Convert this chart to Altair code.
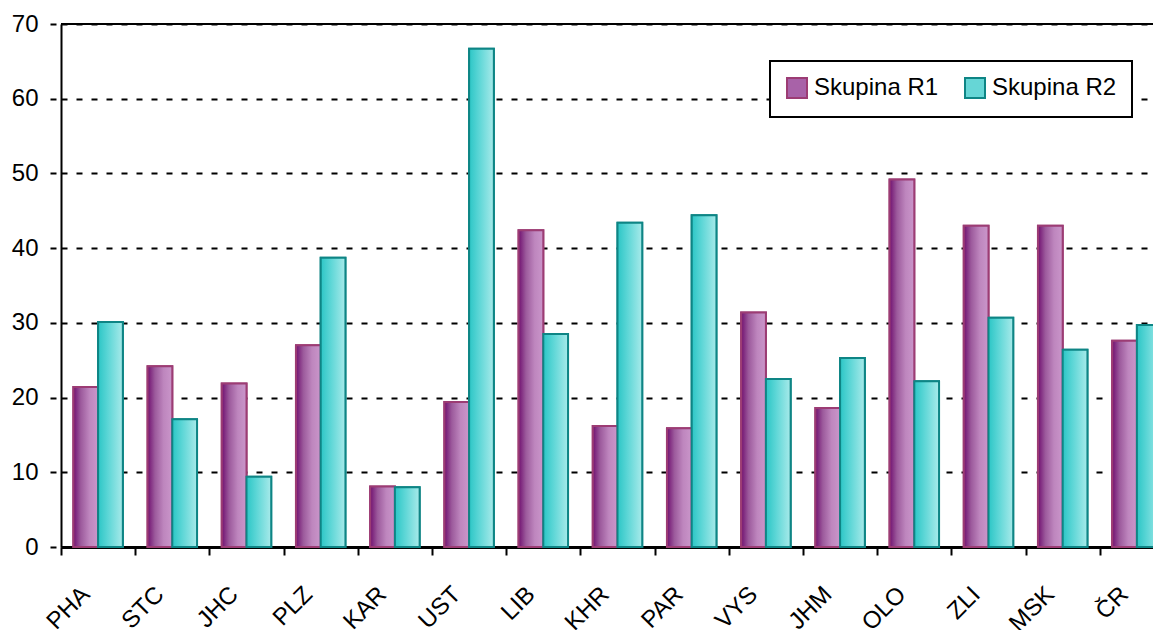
import altair as alt
import pandas as pd

categories = ["PHA", "STC", "JHC", "PLZ", "KAR", "UST", "LIB", "KHR", "PAR", "VYS", "JHM", "OLO", "ZLI", "MSK", "ČR"]
r1_values = [21.4, 24.2, 21.9, 27.0, 8.1, 19.4, 42.4, 16.2, 15.9, 31.4, 18.6, 49.2, 43.0, 43.0, 27.6]
r2_values = [30.1, 17.1, 9.4, 38.7, 8.0, 66.7, 28.5, 43.4, 44.4, 22.5, 25.3, 22.2, 30.7, 26.4, 29.7]
series = ["Skupina R1", "Skupina R2"]
y_ticks = [0, 10, 20, 30, 40, 50, 60, 70]

rows = []
for c, a, b in zip(categories, r1_values, r2_values):
    rows.append({"cat": c, "group": series[0], "value": a})
    rows.append({"cat": c, "group": series[1], "value": b})
df = pd.DataFrame(rows)
top_df = pd.DataFrame({"v": [max(y_ticks)]})

FONT = "Liberation Sans"

grad1 = {"gradient": "linear", "x1": 0, "x2": 1, "y1": 0, "y2": 0,
         "stops": [{"offset": 0, "color": "#701070"},
                   {"offset": 0.3, "color": "#9C5A9C"},
                   {"offset": 0.65, "color": "#BE86BE"},
                   {"offset": 1, "color": "#CA96CA"}]}
grad2 = {"gradient": "linear", "x1": 0, "x2": 1, "y1": 0, "y2": 0,
         "stops": [{"offset": 0, "color": "#2CC6C6"},
                   {"offset": 0.4, "color": "#5CD6D6"},
                   {"offset": 1, "color": "#A8EAEA"}]}

x_enc = alt.X("cat:N", sort=categories,
              scale=alt.Scale(paddingInner=0, paddingOuter=0, range=[0, 1113]),
              axis=alt.Axis(title=None, labelAngle=-45, labelFontSize=24, labelFont=FONT,
                            labelColor="black", labelPadding=27, labelOffset=-21,
                            tickBand="extent", tickColor="black", tickWidth=2, tickSize=8,
                            domainColor="black", domainWidth=3, grid=False))
xo_enc = alt.XOffset("group:N", sort=series, scale=alt.Scale(domain=series, paddingInner=0, paddingOuter=0.5))
y_scale = alt.Scale(domain=[0, 70], nice=False)
y_enc = alt.Y("value:Q", scale=y_scale,
              axis=alt.Axis(title=None, values=y_ticks,
                            labelFontSize=24, labelFont=FONT, labelColor="black",
                            labelPadding=12, tickSize=11, tickColor="black", tickWidth=2,
                            tickDash=[0, 5, 6, 20], domainColor="black", domainWidth=2,
                            grid=True, gridColor="black", gridWidth=2, gridDash=[6, 9]))

color_scale = alt.Scale(domain=series, range=["#A862A8", "#66D6D6"])
stroke_scale = alt.Scale(domain=series, range=["#9C3C74", "#0E8585"])
legend = alt.Legend(title=None, orient="none", legendX=709, legendY=37, direction="horizontal",
                    symbolType="square", symbolSize=400, symbolStrokeWidth=2,
                    labelFont=FONT, labelFontSize=24, labelColor="black", labelOffset=5,
                    columnPadding=22, padding=15, strokeColor="black", fillColor="white")

base = alt.Chart(df).mark_bar(strokeWidth=2).encode(
    x=x_enc, xOffset=xo_enc, y=y_enc,
    fill=alt.Fill("group:N", scale=color_scale, legend=legend),
    stroke=alt.Stroke("group:N", scale=stroke_scale, legend=legend),
)

top = alt.Chart(df).mark_bar(strokeWidth=2).encode(
    x=x_enc, xOffset=xo_enc, y=y_enc,
    fill=alt.condition("datum.group == 'Skupina R1'", {"value": grad1}, {"value": grad2}),
    stroke=alt.Stroke("group:N", scale=stroke_scale, legend=legend),
)

frame_top = alt.Chart(top_df).mark_rule(color="black", strokeWidth=2).encode(
    y=alt.Y("v:Q", scale=y_scale)
)

chart = alt.layer(base, top, frame_top).properties(
    width=1092, height=523,
    autosize=alt.AutoSizeParams(type="none"),
    padding={"left": 53, "top": 16, "right": 0, "bottom": 90},
).configure_view(strokeWidth=0).configure_legend(strokeWidth=2)

chart.save("out.html", embed_options={"renderer": "svg", "actions": False})
